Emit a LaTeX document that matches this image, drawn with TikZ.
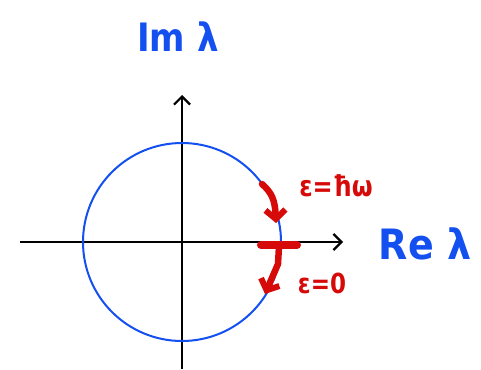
\documentclass[tikz,border=0pt]{standalone}
\usepackage{fontspec}
\setmainfont{DejaVu Sans}
\usetikzlibrary{arrows.meta}
\definecolor{penblue}{RGB}{20,80,240}
\definecolor{penred}{RGB}{215,10,10}
\tikzset{
  axis/.style={line width=2.2pt, black, -{Straight Barb[length=8pt,width=16pt,line width=2.2pt]}},
  redpen/.style={line width=6.5pt, penred, line cap=round, line join=round},
  redarrow/.style={redpen, -{Straight Barb[length=9pt,width=20pt,line width=6pt]}},
  bluelbl/.style={text=penblue},
  redlbl/.style={text=penred}
}
\begin{document}
\begin{tikzpicture}[x=1pt,y=-1pt]
\useasboundingbox (0,0) rectangle (481,369);
\coordinate (O) at (182,242);
\coordinate (xl) at (20,242);
\coordinate (xr) at (343,242);
\coordinate (yb) at (182,369);
\coordinate (yt) at (182,95);
\draw[axis] (xl) -- (xr);
\draw[axis] (yb) -- (yt);
\draw[penblue, line width=2pt] (O) circle[radius=99];
% red marks
\coordinate (b1) at (261,245);
\coordinate (b2) at (297,245);
\draw[redpen, line width=8pt] (b1) -- (b2);
\coordinate (s0) at (279,246);
\coordinate (s1) at (278,264);
\coordinate (s2) at (265,294);
\draw[redarrow] (s0) -- (s1) -- (s2);
\coordinate (u0) at (262,184);
\coordinate (u1) at (276,223);
\draw[redarrow] (u0) .. controls (272,193) and (275,200) .. (u1);
% labels
\node[bluelbl, font=\bfseries\fontsize{34}{36}\selectfont, anchor=center, yscale=1.15] (im) at (178,37) {Im λ};
\node[bluelbl, font=\bfseries\fontsize{38}{40}\selectfont, anchor=center, yscale=1.1] (re) at (425,244) {Re λ};
\node[redlbl, font=\bfseries\fontsize{24}{26}\selectfont, anchor=center, yscale=1.2] (e1) at (336,186) {ε=ħω};
\node[redlbl, font=\bfseries\fontsize{23}{24}\selectfont, anchor=center, yscale=1.2] (e0) at (322,283) {ε=0};
\end{tikzpicture}
\end{document}
